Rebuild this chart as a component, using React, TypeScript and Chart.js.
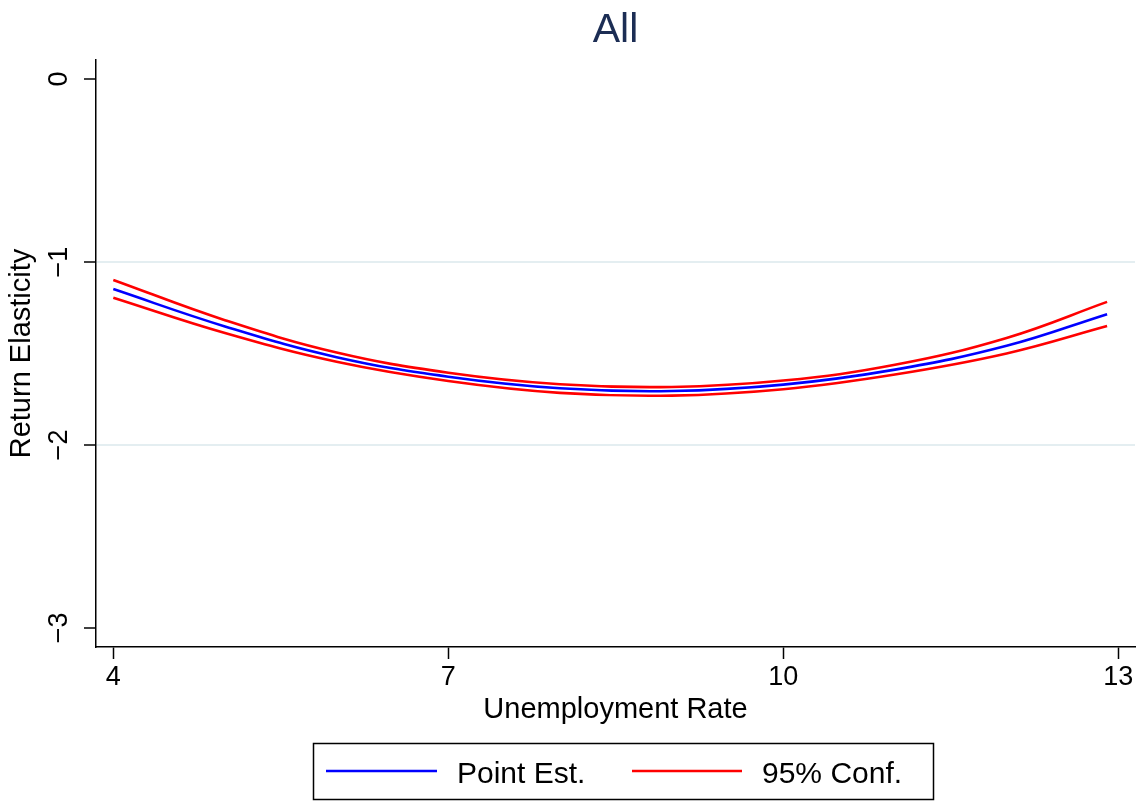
import React, { useEffect, useRef } from "react";
import { Chart, registerables } from "chart.js";

Chart.register(...registerables);

const xValues = [4, 5, 6, 7, 8, 9, 10, 11, 12, 12.9];
const pointEst = [-1.148, -1.352, -1.52, -1.627, -1.69, -1.705, -1.67, -1.588, -1.458, -1.285];
const upperCI = [-1.098, -1.318, -1.495, -1.605, -1.668, -1.683, -1.648, -1.562, -1.415, -1.218];
const lowerCI = [-1.195, -1.388, -1.545, -1.65, -1.715, -1.73, -1.695, -1.615, -1.5, -1.35];
const xTicks = [4, 7, 10, 13];
const yTicks = [0, -1, -2, -3];
const yGridValues = [-1, -2];
const titleText = "All";
const xTitle = "Unemployment Rate";
const yTitle = "Return Elasticity";
const legendLabels = ["Point Est.", "95% Conf."];

const FONT = '"Liberation Sans", Arial, Helvetica, sans-serif';
const BLUE = "#0000ff";
const RED = "#ff0000";

const toPoints = (ys: number[]) => xValues.map((x, i) => ({ x, y: ys[i] }));

const overlayPlugin = {
  id: "overlay",
  afterDraw(chart: any) {
    const { ctx, chartArea } = chart;
    ctx.save();
    // Title
    ctx.fillStyle = "#1c2d54";
    ctx.font = `41px ${FONT}`;
    ctx.textAlign = "center";
    ctx.textBaseline = "alphabetic";
    ctx.fillText(titleText, (chartArea.left + chartArea.right) / 2, 42);

    // Legend box
    ctx.strokeStyle = "#000";
    ctx.lineWidth = 1.5;
    ctx.strokeRect(313.5, 743.5, 620, 56);
    ctx.lineWidth = 2.6;
    ctx.strokeStyle = BLUE;
    ctx.beginPath();
    ctx.moveTo(326, 771);
    ctx.lineTo(437, 771);
    ctx.stroke();
    ctx.strokeStyle = RED;
    ctx.beginPath();
    ctx.moveTo(632, 771);
    ctx.lineTo(742, 771);
    ctx.stroke();
    ctx.fillStyle = "#000";
    ctx.font = `30px ${FONT}`;
    ctx.textAlign = "left";
    ctx.fillText(legendLabels[0], 457, 783);
    ctx.fillText(legendLabels[1], 762, 783);
    ctx.restore();
  },
};

export default function App() {
  const canvasRef = useRef<HTMLCanvasElement | null>(null);

  useEffect(() => {
    if (!canvasRef.current) return;
    const chart = new Chart(canvasRef.current, {
      type: "line",
      data: {
        datasets: [
          {
            label: "Upper",
            data: toPoints(upperCI),
            borderColor: RED,
            borderWidth: 2.6,
            pointRadius: 0,
            tension: 0.4,
            fill: false,
          },
          {
            label: legendLabels[0],
            data: toPoints(pointEst),
            borderColor: BLUE,
            borderWidth: 2.6,
            pointRadius: 0,
            tension: 0.4,
            fill: false,
          },
          {
            label: "Lower",
            data: toPoints(lowerCI),
            borderColor: RED,
            borderWidth: 2.6,
            pointRadius: 0,
            tension: 0.4,
            fill: false,
          },
        ],
      },
      options: {
        animation: false,
        responsive: true,
        maintainAspectRatio: false,
        devicePixelRatio: 1,
        layout: { padding: { left: 0, right: 8, top: 60, bottom: 0 } },
        plugins: {
          legend: { display: false },
          title: { display: false },
          tooltip: { enabled: false },
        },
        scales: {
          x: {
            type: "linear",
            min: 3.845,
            max: 13.15,
            afterBuildTicks: (scale: any) => {
              scale.ticks = xTicks.map((v) => ({ value: v }));
            },
            afterFit: (scale: any) => {
              scale.height = 157;
            },
            grid: {
              drawOnChartArea: false,
              color: "rgba(0,0,0,0)",
              tickColor: "#000",
              tickLength: 12,
              tickWidth: 1.5,
            },
            border: { display: true, color: "#000", width: 1.5 },
            ticks: {
              color: "#000",
              font: { family: FONT, size: 27 },
              padding: 2,
              maxRotation: 0,
              minRotation: 0,
              autoSkip: false,
            },
            title: {
              display: true,
              text: xTitle,
              color: "#000",
              font: { family: FONT, size: 29 },
              padding: { top: 0, bottom: 77 },
            },
          },
          y: {
            type: "linear",
            min: -3.104,
            max: 0.104,
            afterBuildTicks: (scale: any) => {
              scale.ticks = yTicks.map((v) => ({ value: v }));
            },
            afterFit: (scale: any) => {
              scale.width = 96;
            },
            grid: {
              color: (c: any) =>
                c.tick && yGridValues.includes(c.tick.value) ? "#e4eef1" : "rgba(0,0,0,0)",
              lineWidth: 2,
              tickColor: "#000",
              tickLength: 12,
              tickWidth: 1.5,
            },
            border: { display: true, color: "#000", width: 1.5 },
            ticks: {
              color: "#000",
              font: { family: FONT, size: 27 },
              padding: 9,
              minRotation: 90,
              maxRotation: 90,
              crossAlign: "center",
              autoSkip: false,
              callback: (v: any) => (Number(v) < 0 ? "\u2212" + Math.abs(Number(v)) : String(v)),
            },
            title: {
              display: true,
              text: yTitle,
              color: "#000",
              font: { family: FONT, size: 29 },
              padding: { top: 5, bottom: 0 },
            },
          },
        },
      },
      plugins: [overlayPlugin],
    } as any);
    return () => chart.destroy();
  }, []);

  return (
    <div style={{ position: "fixed", left: 0, top: 0, width: 1143, height: 804, background: "#fff" }}>
      <canvas ref={canvasRef} />
    </div>
  );
}
